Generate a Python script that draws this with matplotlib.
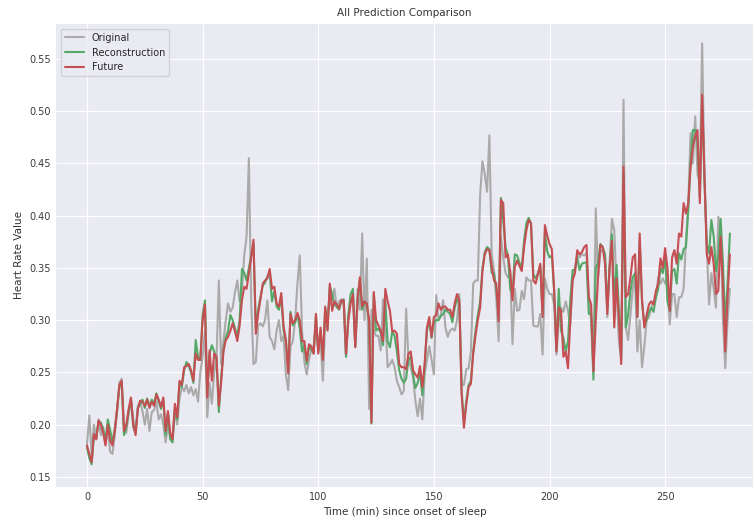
import numpy as np
import matplotlib
matplotlib.use("Agg")
import matplotlib.pyplot as plt


original = [
    0.181, 0.209, 0.172, 0.200, 0.186, 0.205, 0.190, 0.198, 0.182, 0.196,
    0.174, 0.172, 0.190, 0.212, 0.240, 0.244, 0.200, 0.192, 0.210, 0.224,
    0.205, 0.195, 0.218, 0.222, 0.213, 0.200, 0.215, 0.194, 0.212, 0.214,
    0.222, 0.205, 0.210, 0.200, 0.183, 0.200, 0.186, 0.190, 0.212, 0.200,
    0.225, 0.236, 0.232, 0.238, 0.230, 0.236, 0.228, 0.234, 0.222, 0.250,
    0.265, 0.290, 0.207, 0.240, 0.220, 0.250, 0.262, 0.338, 0.258, 0.280,
    0.300, 0.316, 0.308, 0.312, 0.327, 0.338, 0.318, 0.330, 0.362, 0.380,
    0.455, 0.318, 0.258, 0.260, 0.295, 0.297, 0.294, 0.300, 0.319, 0.284,
    0.280, 0.272, 0.290, 0.300, 0.280, 0.285, 0.248, 0.233, 0.275, 0.280,
    0.300, 0.335, 0.362, 0.290, 0.260, 0.248, 0.262, 0.272, 0.275, 0.295,
    0.270, 0.280, 0.242, 0.300, 0.310, 0.315, 0.320, 0.330, 0.312, 0.318,
    0.320, 0.315, 0.265, 0.300, 0.320, 0.322, 0.275, 0.330, 0.310, 0.383,
    0.300, 0.359, 0.215, 0.310, 0.290, 0.285, 0.285, 0.271, 0.320, 0.300,
    0.255, 0.258, 0.262, 0.255, 0.242, 0.236, 0.229, 0.232, 0.311, 0.262,
    0.255, 0.245, 0.223, 0.208, 0.225, 0.205, 0.248, 0.262, 0.275, 0.262,
    0.248, 0.324, 0.300, 0.305, 0.319, 0.293, 0.284, 0.290, 0.292, 0.290,
    0.300, 0.325, 0.238, 0.238, 0.253, 0.254, 0.270, 0.335, 0.338, 0.338,
    0.420, 0.452, 0.440, 0.423, 0.477, 0.363, 0.347, 0.320, 0.280, 0.380,
    0.360, 0.345, 0.341, 0.345, 0.277, 0.330, 0.309, 0.310, 0.328, 0.320,
    0.341, 0.338, 0.338, 0.295, 0.294, 0.294, 0.306, 0.267, 0.340, 0.330,
    0.325, 0.325, 0.315, 0.267, 0.300, 0.312, 0.308, 0.318, 0.309, 0.296,
    0.340, 0.350, 0.363, 0.360, 0.363, 0.362, 0.364, 0.320, 0.300, 0.252,
    0.407, 0.341, 0.365, 0.368, 0.362, 0.303, 0.355, 0.397, 0.386, 0.330,
    0.280, 0.264, 0.511, 0.293, 0.281, 0.305, 0.330, 0.340, 0.270, 0.300,
    0.255, 0.275, 0.300, 0.303, 0.312, 0.318, 0.320, 0.341, 0.335, 0.340,
    0.335, 0.341, 0.296, 0.325, 0.325, 0.303, 0.322, 0.322, 0.330, 0.375,
    0.412, 0.479, 0.450, 0.495, 0.440, 0.430, 0.565, 0.440, 0.373, 0.315,
    0.345, 0.330, 0.312, 0.399, 0.390, 0.300, 0.254, 0.300, 0.330,
]

reconstruction = [
    0.178, 0.168, 0.162, 0.190, 0.188, 0.203, 0.202, 0.195, 0.185, 0.205,
    0.195, 0.183, 0.196, 0.214, 0.236, 0.240, 0.190, 0.198, 0.212, 0.224,
    0.198, 0.192, 0.216, 0.220, 0.224, 0.216, 0.225, 0.218, 0.224, 0.220,
    0.230, 0.222, 0.215, 0.224, 0.190, 0.210, 0.186, 0.183, 0.215, 0.205,
    0.240, 0.236, 0.252, 0.260, 0.256, 0.250, 0.240, 0.281, 0.265, 0.262,
    0.305, 0.319, 0.230, 0.268, 0.276, 0.270, 0.262, 0.212, 0.245, 0.272,
    0.283, 0.290, 0.305, 0.300, 0.292, 0.285, 0.300, 0.349, 0.345, 0.338,
    0.350, 0.362, 0.373, 0.292, 0.310, 0.322, 0.333, 0.336, 0.342, 0.345,
    0.318, 0.328, 0.313, 0.310, 0.322, 0.290, 0.280, 0.252, 0.308, 0.295,
    0.298, 0.305, 0.292, 0.270, 0.276, 0.258, 0.275, 0.272, 0.268, 0.304,
    0.270, 0.290, 0.263, 0.310, 0.292, 0.333, 0.325, 0.315, 0.313, 0.310,
    0.318, 0.320, 0.265, 0.305, 0.325, 0.330, 0.275, 0.318, 0.338, 0.310,
    0.318, 0.314, 0.298, 0.201, 0.325, 0.290, 0.292, 0.288, 0.276, 0.318,
    0.280, 0.274, 0.289, 0.285, 0.270, 0.252, 0.244, 0.240, 0.244, 0.262,
    0.265, 0.248, 0.235, 0.240, 0.250, 0.228, 0.255, 0.290, 0.300, 0.283,
    0.298, 0.300, 0.300, 0.304, 0.306, 0.310, 0.308, 0.306, 0.298, 0.312,
    0.320, 0.316, 0.232, 0.203, 0.222, 0.238, 0.242, 0.270, 0.290, 0.305,
    0.318, 0.350, 0.365, 0.370, 0.368, 0.345, 0.345, 0.330, 0.302, 0.417,
    0.395, 0.370, 0.362, 0.330, 0.325, 0.363, 0.362, 0.355, 0.350, 0.376,
    0.393, 0.398, 0.392, 0.344, 0.340, 0.345, 0.352, 0.306, 0.384, 0.366,
    0.360, 0.362, 0.328, 0.272, 0.330, 0.290, 0.283, 0.270, 0.280, 0.320,
    0.348, 0.348, 0.360, 0.348, 0.354, 0.355, 0.355, 0.306, 0.306, 0.243,
    0.350, 0.355, 0.373, 0.370, 0.363, 0.312, 0.350, 0.382, 0.318, 0.353,
    0.310, 0.262, 0.440, 0.293, 0.305, 0.328, 0.341, 0.345, 0.303, 0.375,
    0.318, 0.295, 0.300, 0.308, 0.312, 0.308, 0.322, 0.330, 0.350, 0.345,
    0.361, 0.318, 0.309, 0.347, 0.349, 0.335, 0.364, 0.358, 0.368, 0.370,
    0.405, 0.450, 0.482, 0.482, 0.470, 0.418, 0.510, 0.434, 0.373, 0.364,
    0.396, 0.380, 0.347, 0.362, 0.397, 0.355, 0.296, 0.335, 0.383,
]

future = [
    0.180, 0.172, 0.164, 0.191, 0.186, 0.204, 0.200, 0.192, 0.180, 0.200,
    0.185, 0.180, 0.194, 0.215, 0.238, 0.242, 0.194, 0.200, 0.215, 0.226,
    0.200, 0.190, 0.215, 0.223, 0.222, 0.218, 0.224, 0.216, 0.222, 0.218,
    0.229, 0.224, 0.217, 0.226, 0.194, 0.213, 0.192, 0.186, 0.220, 0.207,
    0.242, 0.238, 0.255, 0.256, 0.258, 0.252, 0.242, 0.268, 0.262, 0.262,
    0.300, 0.315, 0.226, 0.271, 0.242, 0.268, 0.265, 0.218, 0.240, 0.270,
    0.281, 0.284, 0.290, 0.297, 0.289, 0.280, 0.295, 0.319, 0.332, 0.330,
    0.345, 0.360, 0.377, 0.287, 0.306, 0.320, 0.335, 0.338, 0.340, 0.349,
    0.330, 0.332, 0.316, 0.313, 0.326, 0.294, 0.281, 0.249, 0.306, 0.297,
    0.300, 0.307, 0.300, 0.280, 0.280, 0.261, 0.277, 0.275, 0.268, 0.306,
    0.268, 0.293, 0.262, 0.313, 0.290, 0.335, 0.309, 0.318, 0.315, 0.311,
    0.319, 0.319, 0.268, 0.300, 0.316, 0.325, 0.274, 0.320, 0.341, 0.313,
    0.318, 0.316, 0.300, 0.202, 0.327, 0.300, 0.295, 0.290, 0.280, 0.330,
    0.318, 0.309, 0.289, 0.290, 0.287, 0.258, 0.255, 0.255, 0.253, 0.268,
    0.270, 0.252, 0.248, 0.245, 0.256, 0.236, 0.258, 0.293, 0.303, 0.284,
    0.303, 0.305, 0.316, 0.310, 0.313, 0.313, 0.310, 0.310, 0.303, 0.316,
    0.325, 0.319, 0.229, 0.197, 0.219, 0.236, 0.239, 0.268, 0.285, 0.300,
    0.312, 0.347, 0.363, 0.368, 0.367, 0.351, 0.338, 0.335, 0.299, 0.415,
    0.412, 0.360, 0.363, 0.347, 0.319, 0.351, 0.357, 0.352, 0.347, 0.370,
    0.386, 0.396, 0.393, 0.338, 0.335, 0.344, 0.354, 0.303, 0.391, 0.381,
    0.373, 0.368, 0.330, 0.270, 0.312, 0.309, 0.265, 0.270, 0.254, 0.300,
    0.338, 0.345, 0.367, 0.363, 0.365, 0.370, 0.372, 0.322, 0.315, 0.251,
    0.299, 0.341, 0.372, 0.370, 0.354, 0.306, 0.351, 0.376, 0.293, 0.340,
    0.300, 0.258, 0.447, 0.322, 0.325, 0.341, 0.360, 0.363, 0.303, 0.383,
    0.320, 0.293, 0.305, 0.315, 0.318, 0.315, 0.328, 0.335, 0.359, 0.350,
    0.369, 0.350, 0.309, 0.360, 0.367, 0.354, 0.383, 0.380, 0.412, 0.402,
    0.412, 0.447, 0.466, 0.476, 0.482, 0.412, 0.516, 0.440, 0.363, 0.354,
    0.370, 0.354, 0.325, 0.328, 0.380, 0.332, 0.270, 0.322, 0.363,
]

minutes = np.arange(len(original))


def plot_comparison():
    plt.style.use("seaborn-v0_8-darkgrid")
    plt.rcParams["font.family"] = ["DejaVu Sans"]
    fig = plt.figure(figsize=(7.53, 5.18), dpi=100)
    ax = fig.add_axes([0.0744, 0.060, 0.9256, 0.8937])

    ax.plot(minutes, original, color="#aaaaaa", linewidth=1.5, label="Original")
    ax.plot(minutes, reconstruction, color="#55a868", linewidth=1.5, label="Reconstruction")
    ax.plot(minutes, future, color="#c44e52", linewidth=1.5, label="Future")

    ax.set_xlim(-13.4, 288)
    ax.set_ylim(0.1404, 0.5835)
    ax.set_xticks([0, 50, 100, 150, 200, 250])
    ax.set_yticks(np.arange(0.15, 0.551, 0.05))
    ax.tick_params(labelsize=7, colors="#3a3a3a")

    ax.set_title("All Prediction Comparison", fontsize=7.5, color="#333333")
    ax.set_xlabel("Time (min) since onset of sleep", fontsize=7.5, color="#333333")
    ax.set_ylabel("Heart Rate Value", fontsize=7.5, color="#333333")
    ax.legend(loc="upper left", fontsize=7, frameon=True)

    fig.savefig("out.png", dpi=100)


if __name__ == "__main__":
    plot_comparison()
